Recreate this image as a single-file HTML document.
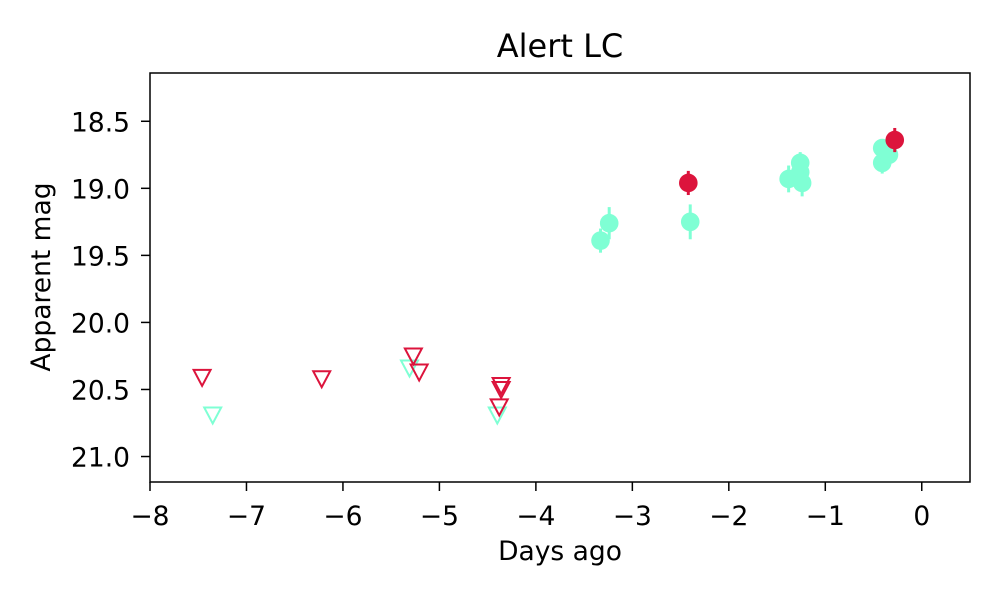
<!DOCTYPE html>
<html><head><meta charset="utf-8"><style>
body{margin:0;background:#fff;font-family:"Liberation Sans",sans-serif}
svg text{font-family:"DejaVu Sans","Liberation Sans",sans-serif;fill:#000}
</style></head><body>
<svg id="chart" width="1000" height="600" viewBox="0 0 1000 600" xmlns="http://www.w3.org/2000/svg">
<rect width="1000" height="600" fill="#fff"/>
<text x="560" y="57" font-size="32" text-anchor="middle">Alert LC</text>
<g id="marks"></g>
<g id="axes"></g>
<text x="560" y="560" font-size="26.5" text-anchor="middle">Days ago</text>
<text x="50" y="277" font-size="26.5" text-anchor="middle" transform="rotate(-90 50 277)">Apparent mag</text>
</svg>
<script>
const xTicks=[-8,-7,-6,-5,-4,-3,-2,-1,0];
const yTicks=[18.5,19.0,19.5,20.0,20.5,21.0];
const gDays=[-3.33,-3.24,-2.40,-1.38,-1.26,-1.26,-1.24,-0.41,-0.41,-0.34];
const gMags=[19.39,19.26,19.25,18.93,18.81,18.88,18.96,18.70,18.81,18.75];
const gErrs=[0.09,0.12,0.13,0.10,0.08,0.08,0.10,0.06,0.08,0.06];
const rDays=[-2.42,-0.28];
const rMags=[18.96,18.64];
const rErrs=[0.09,0.09];
const rLimDays=[-7.46,-6.22,-5.27,-5.21,-4.36,-4.36,-4.38];
const rLimMags=[20.41,20.42,20.25,20.37,20.47,20.50,20.63];
const gLimDays=[-7.35,-5.31,-4.40];
const gLimMags=[20.69,20.34,20.69];
const X0=150,X1=970,Y0=73,Y1=482,XMIN=-8,XMAX=0.5,YMIN=18.14,YMAX=21.19;
const xs=d=>X0+(d-XMIN)/(XMAX-XMIN)*(X1-X0);
const ys=m=>Y0+(m-YMIN)/(YMAX-YMIN)*(Y1-Y0);
const NS="http://www.w3.org/2000/svg";
const marks=document.getElementById('marks'),axes=document.getElementById('axes');
function mk(t,a,p){const e=document.createElementNS(NS,t);for(const k in a)e.setAttribute(k,a[k]);p.appendChild(e);return e;}
const GREEN="#7fffd4",RED="#dc143c";
function tri(d,m,c){const x=xs(d),y=ys(m);
 return mk('polygon',{points:`${x-8.5},${y-7.5} ${x+8.5},${y-7.5} ${x},${y+8.5}`,fill:'none',stroke:c,'stroke-width':2},marks);}
gLimDays.forEach((d,i)=>{const e=tri(d,gLimMags[i],GREEN);

});
rLimDays.forEach((d,i)=>{const e=tri(d,rLimMags[i],RED);

});
function pt(d,m,er,c){const x=xs(d);
 mk('line',{x1:x,x2:x,y1:ys(m-er),y2:ys(m+er),stroke:c,'stroke-width':3},marks);
 return mk('circle',{cx:x,cy:ys(m),r:9.3,fill:c},marks);}
gDays.forEach((d,i)=>{const e=pt(d,gMags[i],gErrs[i],GREEN);

});
rDays.forEach((d,i)=>{const e=pt(d,rMags[i],rErrs[i],RED);

});
const fr=mk('rect',{x:X0,y:Y0,width:X1-X0,height:Y1-Y0,fill:'none',stroke:'#000','stroke-width':1.5},axes);


xTicks.forEach(t=>{const x=xs(t);
 mk('line',{x1:x,x2:x,y1:Y1,y2:Y1+9,stroke:'#000','stroke-width':1.5},axes);
 const tx=mk('text',{x:x,y:Y1+43,'font-size':26.5,'text-anchor':'middle'},axes);
 tx.textContent=t<0?'\u2212'+Math.abs(t):String(t);
 
 });
yTicks.forEach(t=>{const y=ys(t);
 mk('line',{x1:X0-9,x2:X0,y1:y,y2:y,stroke:'#000','stroke-width':1.5},axes);
 const tx=mk('text',{x:X0-20,y:y+10,'font-size':26.5,'text-anchor':'end'},axes);
 tx.textContent=t.toFixed(1);
 
 });
</script>
</body></html>
